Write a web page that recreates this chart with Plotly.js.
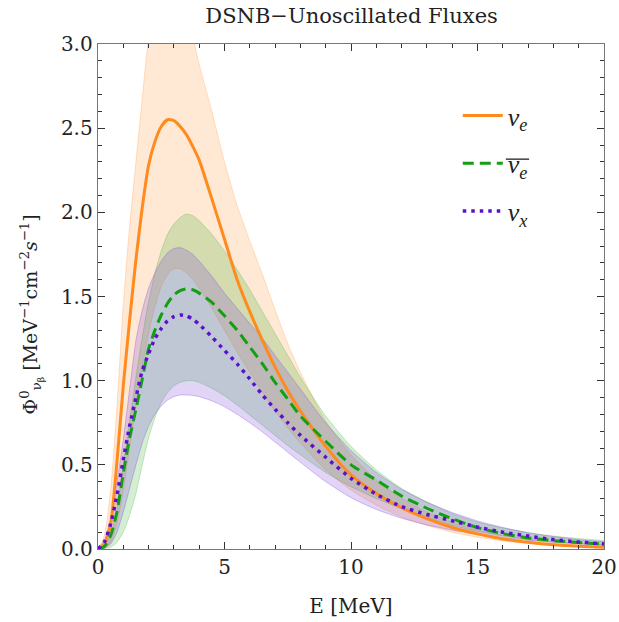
<!DOCTYPE html>
<html>
<head>
<meta charset="utf-8">
<script src="https://cdn.plot.ly/plotly-3.0.1.min.js"></script>
<style>html,body{margin:0;padding:0;background:#fff;}#plot{width:619px;height:622px;}</style>
</head>
<body>
<div id="plot"></div>
<script>
// Energy grid [MeV]
const E = [0,0.25,0.5,0.75,1,1.25,1.5,1.75,2,2.25,2.5,2.75,3,3.25,3.5,3.75,4,4.5,5,5.5,6,6.5,7,7.5,8,9,10,11,12,13,14,15,16,17,18,19,20];

// central fluxes
const nue    = [0,0.03,0.15,0.52,0.97,1.36,1.72,2.03,2.28,2.42,2.51,2.55,2.545,2.51,2.46,2.39,2.31,2.08,1.84,1.60,1.41,1.24,1.08,0.94,0.82,0.61,0.44,0.33,0.245,0.18,0.128,0.09,0.06,0.04,0.025,0.016,0.01];
const nuebar = [0,0.015,0.08,0.22,0.45,0.66,0.83,1.01,1.19,1.30,1.39,1.46,1.51,1.535,1.545,1.54,1.52,1.465,1.385,1.30,1.20,1.10,0.99,0.89,0.79,0.64,0.50,0.41,0.315,0.242,0.18,0.127,0.091,0.066,0.05,0.038,0.03];
const nux    = [0,0.04,0.15,0.32,0.53,0.73,0.90,1.06,1.16,1.25,1.31,1.355,1.38,1.39,1.385,1.365,1.335,1.26,1.18,1.10,1.01,0.915,0.83,0.75,0.675,0.545,0.42,0.325,0.252,0.205,0.168,0.13,0.10,0.077,0.056,0.041,0.03];

// band edges
const nueLo    = [0,0.005,0.04,0.15,0.35,0.6,0.85,1.08,1.28,1.44,1.56,1.63,1.665,1.665,1.64,1.6,1.55,1.43,1.3,1.17,1.05,0.93,0.82,0.72,0.63,0.47,0.35,0.26,0.19,0.14,0.1,0.07,0.048,0.032,0.021,0.012,0.006];
const nueHi    = [0,0.08,0.35,0.85,1.45,1.92,2.3,2.68,3.03,3.2,3.32,3.38,3.38,3.33,3.22,3.04,2.88,2.6,2.3,2.04,1.83,1.63,1.42,1.22,1.05,0.76,0.56,0.41,0.3,0.22,0.16,0.115,0.082,0.058,0.04,0.028,0.02];
const nuebarLo = [0,0.002,0.01,0.04,0.1,0.2,0.33,0.5,0.66,0.78,0.87,0.93,0.97,0.99,1.0,1.0,0.99,0.955,0.91,0.855,0.795,0.735,0.675,0.615,0.56,0.455,0.37,0.3,0.24,0.19,0.14,0.105,0.078,0.058,0.043,0.032,0.024];
const nuebarHi = [0,0.02,0.08,0.24,0.5,0.76,1.02,1.26,1.47,1.64,1.77,1.87,1.93,1.97,1.99,1.98,1.95,1.87,1.77,1.66,1.54,1.41,1.28,1.15,1.02,0.79,0.61,0.47,0.36,0.28,0.21,0.16,0.125,0.097,0.077,0.062,0.05];
const nuxLo    = [0,0.005,0.03,0.1,0.22,0.36,0.5,0.63,0.73,0.8,0.85,0.885,0.905,0.915,0.915,0.912,0.905,0.88,0.845,0.80,0.75,0.695,0.635,0.575,0.515,0.40,0.305,0.235,0.183,0.143,0.112,0.087,0.067,0.052,0.04,0.031,0.024];
const nuxHi    = [0,0.05,0.18,0.4,0.65,0.95,1.24,1.42,1.55,1.64,1.71,1.76,1.785,1.79,1.775,1.75,1.71,1.62,1.52,1.43,1.34,1.25,1.15,1.05,0.95,0.75,0.585,0.455,0.355,0.278,0.217,0.167,0.128,0.097,0.074,0.056,0.043];

const xTicks = [0,5,10,15,20];
const yTicks = [0,0.5,1,1.5,2,2.5,3];
const names = ['<i>ν</i><sub><i>e</i></sub>', '<i>ν</i><sub><i>e</i></sub>', '<i>ν</i><sub><i>x</i></sub>'];
const titleText = 'DSNB−Unoscillated Fluxes';
const xTitle = 'E [MeV]';
const yTitle = 'Φ<sup>0</sup><sub>ν<sub>β</sub></sub> [MeV<sup>−1</sup>cm<sup>−2</sup><i>s</i><sup>−1</sup>]';

const C = {
  o: {line:'#ff8a1e', fill:'rgba(255,127,14,0.18)', edge:'rgba(255,127,14,0.22)'},
  g: {line:'#12a012', fill:'rgba(40,170,30,0.2)',  edge:'rgba(40,170,30,0.25)'},
  p: {line:'#5b0fcf', fill:'rgba(120,60,220,0.22)', edge:'rgba(120,60,220,0.3)'}
};

function band(lo, hi, c){
  return [
    {x:E, y:lo, type:'scatter', mode:'lines', line:{color:c.edge, width:1, shape:'spline', smoothing:0.6}, showlegend:false, hoverinfo:'skip'},
    {x:E, y:hi, type:'scatter', mode:'lines', fill:'tonexty', fillcolor:c.fill, line:{color:c.edge, width:1, shape:'spline', smoothing:0.6}, showlegend:false, hoverinfo:'skip'}
  ];
}

const data = [
  ...band(nueLo, nueHi, C.o),
  ...band(nuebarLo, nuebarHi, C.g),
  ...band(nuxLo, nuxHi, C.p),
  {x:E, y:nue, type:'scatter', mode:'lines', name:names[0], legendgroup:'a', line:{color:C.o.line, width:3, shape:'spline', smoothing:0.6}},
  {x:E, y:nuebar, type:'scatter', mode:'lines', name:names[1], legendgroup:'b', line:{color:C.g.line, width:3, dash:'11px,6px', shape:'spline', smoothing:0.6}},
  {x:E, y:nux, type:'scatter', mode:'lines', name:names[2], legendgroup:'c', line:{color:C.p.line, width:3.5, dash:'3.5px,5px', shape:'spline', smoothing:0.6}}
];

const FAM = '"DejaVu Serif", "Liberation Serif", serif';
const axisCommon = {
  showgrid:false, zeroline:false, showline:true, linecolor:'#777', linewidth:1.3,
  mirror:'ticks', ticks:'inside', ticklen:7, tickwidth:1, tickcolor:'#333',
  tickfont:{family:FAM, size:20, color:'#222'}
};

const layout = {
  width:619, height:622,
  margin:{l:98, r:15, t:44, b:73},
  paper_bgcolor:'#fff', plot_bgcolor:'#fff',
  font:{family:FAM, size:19, color:'#222'},
  title:{text:titleText, x:0.568, xanchor:'center', y:0.975, yanchor:'middle', font:{family:FAM, size:21, color:'#222'}},
  xaxis:Object.assign({}, axisCommon, {
    range:[0,20], tickvals:xTicks, ticktext:xTicks.map(String),
    minor:{dtick:1, ticks:'inside', ticklen:4, tickcolor:'#333'},
    title:{text:xTitle, standoff:20, font:{family:FAM, size:20, color:'#222'}}
  }),
  yaxis:Object.assign({}, axisCommon, {
    range:[0,3], tickvals:yTicks, ticktext:yTicks.map(v=>v.toFixed(1)),
    minor:{dtick:0.1, ticks:'inside', ticklen:4, tickcolor:'#333'},
    title:{text:''}
  }),
  annotations:[
    {text:yTitle, xref:'paper', yref:'paper', x:-0.132, y:0.465, xanchor:'center', yanchor:'middle',
     textangle:-90, showarrow:false, font:{family:FAM, size:19, color:'#222'}}
  ],
  shapes:[
    // overline of the anti-neutrino legend label
    {type:'line', xref:'paper', yref:'paper', x0:0.806, x1:0.852, y0:0.772, y1:0.772, line:{color:'#222', width:1.3}}
  ],
  legend:{x:0.711, y:0.905, xanchor:'left', yanchor:'top', bgcolor:'rgba(0,0,0,0)', borderwidth:0,
          font:{family:'"Liberation Serif", serif', size:26, color:'#222'}, tracegroupgap:11, itemwidth:40},
  showlegend:true
};

Plotly.newPlot('plot', data, layout, {displayModeBar:false, staticPlot:true});
</script>
</body>
</html>
